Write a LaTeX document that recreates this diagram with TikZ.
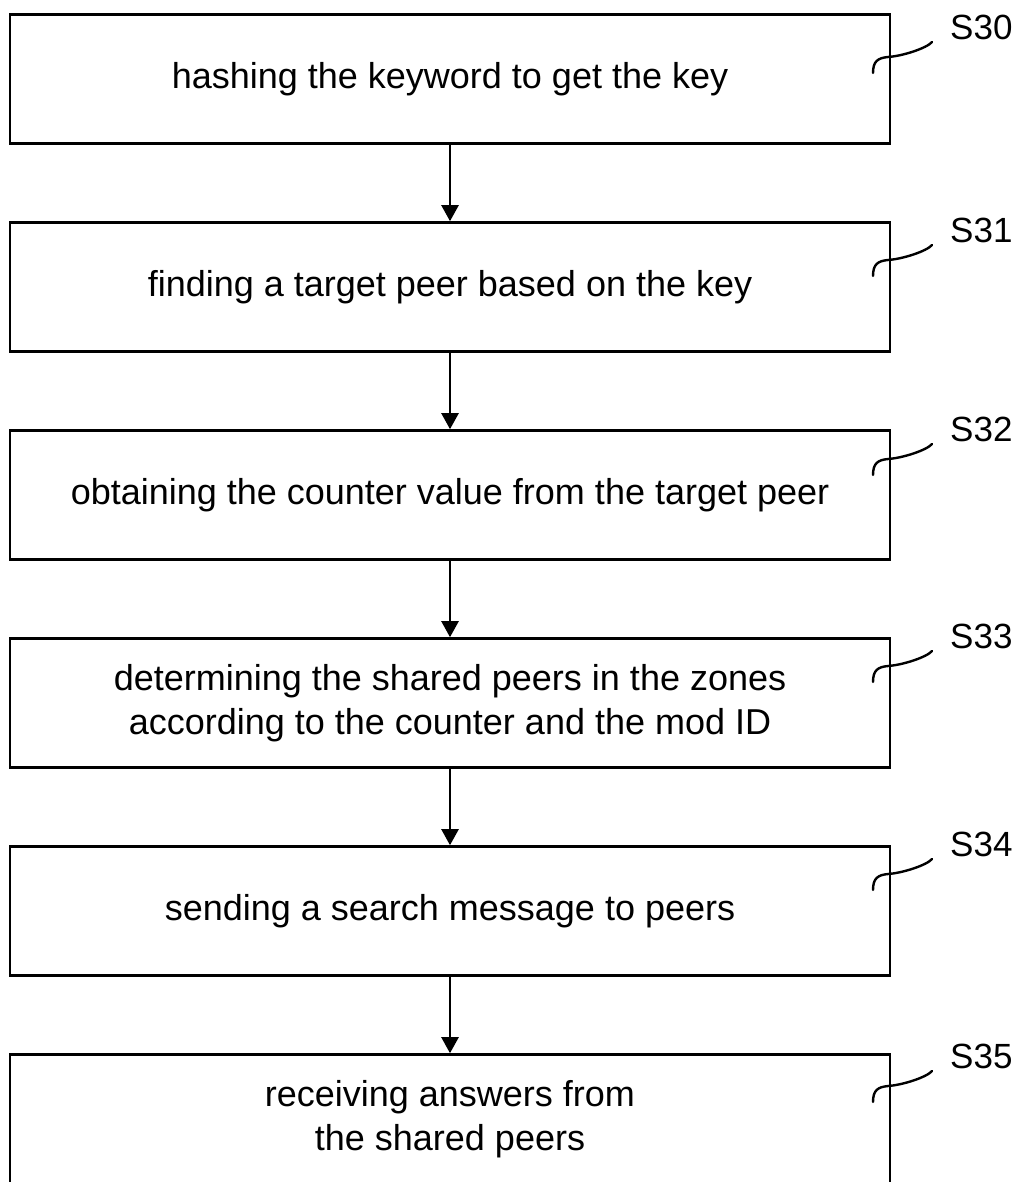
\documentclass[tikz,border=0pt]{standalone}
\usepackage{fontspec}
\setmainfont{Liberation Sans}
\usetikzlibrary{arrows.meta}

\begin{document}
\begin{tikzpicture}[x=1pt,y=1pt,
    stepbox/.style={shape=rectangle,draw=black,line width=2.6pt,minimum width=880pt,minimum height=129pt,align=center,font=\fontsize{36}{44}\selectfont},
    steplabel/.style={inner sep=0pt,anchor=west,font=\fontsize{35}{40}\selectfont},
    flow/.style={line width=2.4pt,-{Triangle[length=16pt,width=17pt]}},
    leader/.style={line width=2.4pt,line cap=round}]
    \useasboundingbox (0,0) rectangle (1018,-1182);

    \node[stepbox] (hash) at (450,-79) {hashing the keyword to get the key};
    \node[stepbox] (find) at (450,-287) {finding a target peer based on the key};
    \node[stepbox] (obtain) at (450,-495) {obtaining the counter value from the target peer};
    \node[stepbox] (determine) at (450,-703) {determining the shared peers in the zones\\according to the counter and the mod ID};
    \node[stepbox] (send) at (450,-911) {sending a search message to peers};
    \node[stepbox] (receive) at (450,-1119) {receiving answers from\\the shared peers};

    \node[steplabel] (s30) at (950,-27) {S30};
    \node[steplabel] (s31) at (950,-230) {S31};
    \node[steplabel] (s32) at (950,-429) {S32};
    \node[steplabel] (s33) at (950,-636) {S33};
    \node[steplabel] (s34) at (950,-844) {S34};
    \node[steplabel] (s35) at (950,-1056) {S35};

    \path [flow] (hash) edge[] (find);
    \path [flow] (find) edge[] (obtain);
    \path [flow] (obtain) edge[] (determine);
    \path [flow] (determine) edge[] (send);
    \path [flow] (send) edge[] (receive);

    \draw[leader] (s30.west) ++(-18,-15) .. controls +(-5,-6) and +(15,1) .. ++(-44,-15) .. controls +(-10,-1) and +(0,12) .. ++(-15,-16);
    \draw[leader] (s31.west) ++(-18,-15) .. controls +(-5,-6) and +(15,1) .. ++(-44,-15) .. controls +(-10,-1) and +(0,12) .. ++(-15,-16);
    \draw[leader] (s32.west) ++(-18,-15) .. controls +(-5,-6) and +(15,1) .. ++(-44,-15) .. controls +(-10,-1) and +(0,12) .. ++(-15,-16);
    \draw[leader] (s33.west) ++(-18,-15) .. controls +(-5,-6) and +(15,1) .. ++(-44,-15) .. controls +(-10,-1) and +(0,12) .. ++(-15,-16);
    \draw[leader] (s34.west) ++(-18,-15) .. controls +(-5,-6) and +(15,1) .. ++(-44,-15) .. controls +(-10,-1) and +(0,12) .. ++(-15,-16);
    \draw[leader] (s35.west) ++(-18,-15) .. controls +(-5,-6) and +(15,1) .. ++(-44,-15) .. controls +(-10,-1) and +(0,12) .. ++(-15,-16);
\end{tikzpicture}
\end{document}
